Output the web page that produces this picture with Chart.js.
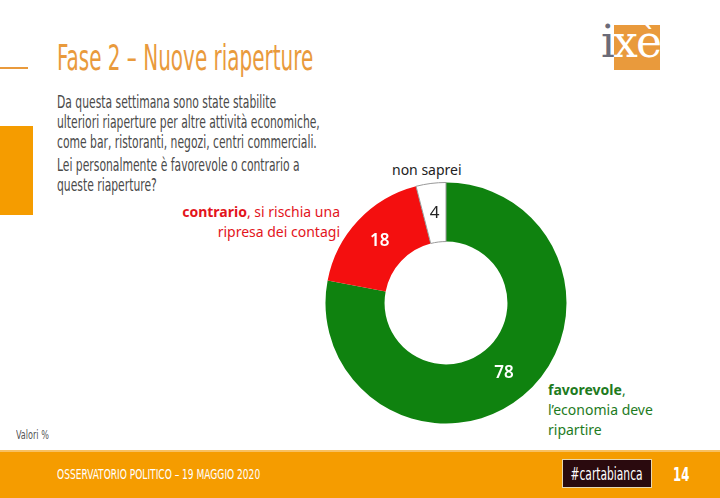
<!DOCTYPE html>
<html>
<head>
<meta charset="utf-8">
<script src="https://cdn.jsdelivr.net/npm/chart.js@4.4.1/dist/chart.umd.min.js"></script>
<style>
  html, body { margin: 0; padding: 0; }
  body { width: 720px; height: 498px; position: relative; overflow: hidden; background: #fff; }
  .abs { position: absolute; }
  .narrow { font-family: "DejaVu Sans Condensed", "DejaVu Sans", sans-serif; }
  #title { left: 57px; top: 38px; font-size: 35px; color: #e99a3c; white-space: nowrap; transform: scaleX(0.635); transform-origin: left top; }
  #question { left: 57px; top: 92px; font-size: 17px; color: #4a4a4a; line-height: 20px; white-space: nowrap; transform: scaleX(0.705); transform-origin: left top; }
  .lbl { font-family: "Noto Sans", "Open Sans", sans-serif; font-size: 14px; line-height: 20px; white-space: nowrap; }
  #footer { left: 0; top: 450px; width: 720px; height: 48px; background: #f59c00; border-top: 2px solid #f8c060; box-sizing: border-box; }
  #tag { left: 562px; top: 459px; width: 90px; height: 29px; background: #2a0a0e; border: 1px solid #e8d8b0; box-sizing: border-box; color: #fff; font-size: 17px; display: flex; align-items: center; justify-content: center; white-space: nowrap; }
</style>
</head>
<body>
<div class="abs" style="left:0;top:67px;width:28px;height:2px;background:#e99a3c"></div>
<div class="abs" style="left:0;top:126px;width:33px;height:89px;background:#f59c00"></div>
<div id="title" class="abs narrow">Fase 2 – Nuove riaperture</div>
<div id="question" class="abs narrow">
  Da questa settimana sono state stabilite<br>
  ulteriori riaperture per altre attività economiche,<br>
  come bar, ristoranti, negozi, centri commerciali.<br>
  <div style="height:3px"></div>
  Lei personalmente è favorevole o contrario a<br>
  queste riaperture?
</div>

<!-- logo -->
<div class="abs" style="left:614px;top:25px;width:46px;height:45px;background:#e99a3c"></div>
<div class="abs" style="left:601px;top:14px;font-family:'DejaVu Serif',serif;font-size:44px;line-height:56px;letter-spacing:-2px">
  <span style="color:#6b6b78">i</span><span style="color:#fff">xè</span>
</div>

<div class="abs lbl" style="left:392px;top:160px;color:#222">non saprei</div>
<div class="abs lbl" style="right:380px;top:202px;text-align:right;color:#e3141c">
  <b>contrario</b>, si rischia una<br>ripresa dei contagi
</div>
<div class="abs lbl" style="left:548px;top:380px;color:#1e7b1e">
  <b>favorevole</b>,<br>l’economia deve<br>ripartire
</div>

<div class="abs narrow" style="left:16px;top:428px;font-size:12px;color:#555;transform:scaleX(0.75);transform-origin:left top">Valori %</div>

<div style="position:absolute;left:325px;top:182px;width:242px;height:242px">
  <canvas id="donut"></canvas>
</div>

<div id="footer" class="abs"></div>
<div class="abs narrow" style="left:57px;top:466px;font-size:14px;color:#fff;transform:scaleX(0.72);transform-origin:left top;white-space:nowrap">OSSERVATORIO POLITICO – 19 MAGGIO 2020</div>
<div id="tag" class="abs narrow"><span style="display:inline-block;transform:scaleX(0.7);flex:none">#cartabianca</span></div>
<div class="abs narrow" style="left:673px;top:462px;font-size:20px;color:#fff;font-weight:bold;transform:scaleX(0.65);transform-origin:left top">14</div>

<script>
const categories = ["favorevole", "contrario", "non saprei"];
const values = [78, 18, 4];
const sliceColors = ["#0f820f", "#f40f0f", "#ffffff"];
const valueColors = ["#ffffff", "#ffffff", "#222222"];

// ================= SLICE LABELS =================
const sliceLabels = {
  id: "sliceLabels",
  afterDatasetsDraw(chart) {
    const ctx = chart.ctx;
    const meta = chart.getDatasetMeta(0);
    ctx.save();
    ctx.textAlign = "center";
    ctx.textBaseline = "middle";
    meta.data.forEach((arc, i) => {
      const pos = arc.tooltipPosition();
      ctx.font = (i === 2 ? "" : "600 ") + "17px 'Noto Sans', sans-serif";
      ctx.fillStyle = valueColors[i];
      ctx.fillText(String(values[i]), pos.x, pos.y);
    });
    ctx.restore();
  },
};

new Chart(document.getElementById("donut"), {
  type: "doughnut",
  data: {
    labels: categories,
    datasets: [
      {
        data: values,
        backgroundColor: sliceColors,
        borderColor: ["#0f820f", "#f40f0f", "#999999"],
        borderWidth: [0, 0, 1],
      },
    ],
  },
  options: {
    responsive: true,
    maintainAspectRatio: false,
    animation: false,
    cutout: "51%",
    layout: { padding: 0 },
    plugins: {
      legend: { display: false },
      tooltip: { enabled: false },
    },
  },
  plugins: [sliceLabels],
});
</script>
</body>
</html>
